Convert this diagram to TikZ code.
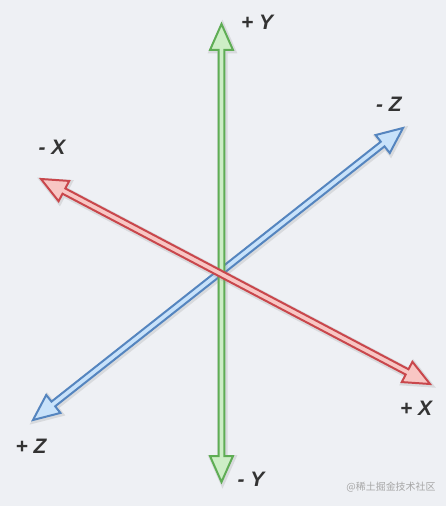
\documentclass[tikz,border=0pt]{standalone}
\usepackage{fontspec}
\setmainfont{Liberation Sans}
\newfontfamily\cjk{Noto Sans CJK SC}
\usetikzlibrary{calc}
\definecolor{bgc}{HTML}{EEF0F4}
\definecolor{gOut}{HTML}{5FAD55}
\definecolor{gIn}{HTML}{CDEEC6}
\definecolor{rOut}{HTML}{C9474C}
\definecolor{rIn}{HTML}{F8C6C4}
\definecolor{bOut}{HTML}{5585BF}
\definecolor{bIn}{HTML}{C8E2FA}
\definecolor{labc}{HTML}{333333}
\tikzset{
  arrowbody/.style={line width=2pt, line join=miter,
    preaction={draw=black!45, opacity=0.22, line width=4.5pt,
      transform canvas={shift={(1pt,-1.2pt)}}}},
  axlab/.style={text=labc, font=\fontsize{21}{21}\selectfont\bfseries\itshape, inner sep=0pt},
  wmark/.style={text=black!35, font=\cjk\fontsize{10}{10}\selectfont, inner sep=0pt}
}
\newcommand\axarrow[4]{%
  \coordinate (#1h) at ($(#1)!26pt!(#2)$);
  \coordinate (#2h) at ($(#2)!26pt!(#1)$);
  \filldraw[arrowbody, draw=#3, fill=#4]
    (#1) -- ($(#1h)!11.5pt!90:(#1)$) -- ($(#1h)!3pt!90:(#1)$)
    -- ($(#2h)!3pt!-90:(#2)$) -- ($(#2h)!11.5pt!-90:(#2)$) -- (#2)
    -- ($(#2h)!11.5pt!90:(#2)$) -- ($(#2h)!3pt!90:(#2)$)
    -- ($(#1h)!3pt!-90:(#1)$) -- ($(#1h)!11.5pt!-90:(#1)$) -- cycle;
}
\begin{document}
\begin{tikzpicture}[x=1bp, y=-1bp]
  \fill[bgc] (0,0) rectangle (446,506);
  \useasboundingbox (0,0) rectangle (446,506);
  \coordinate (py) at (221.5,24);
  \coordinate (ny) at (221.5,482);
  \coordinate (nx) at (41,179);
  \coordinate (px) at (430,384);
  \coordinate (nz) at (403,128);
  \coordinate (pz) at (33,420);
  \axarrow{pz}{nz}{bOut}{bIn}
  \axarrow{py}{ny}{gOut}{gIn}
  \axarrow{nx}{px}{rOut}{rIn}
  \node[axlab] (lpy) at (257,22) {+ Y};
  \node[axlab] (lny) at (251,479) {- Y};
  \node[axlab] (lnz) at (389,104) {- Z};
  \node[axlab] (lpz) at (31,446) {+ Z};
  \node[axlab] (lnx) at (52,147) {- X};
  \node[axlab] (lpx) at (416,408) {+ X};
  \node[wmark] (wm) at (391,487) {@稀土掘金技术社区};
\end{tikzpicture}
\end{document}
